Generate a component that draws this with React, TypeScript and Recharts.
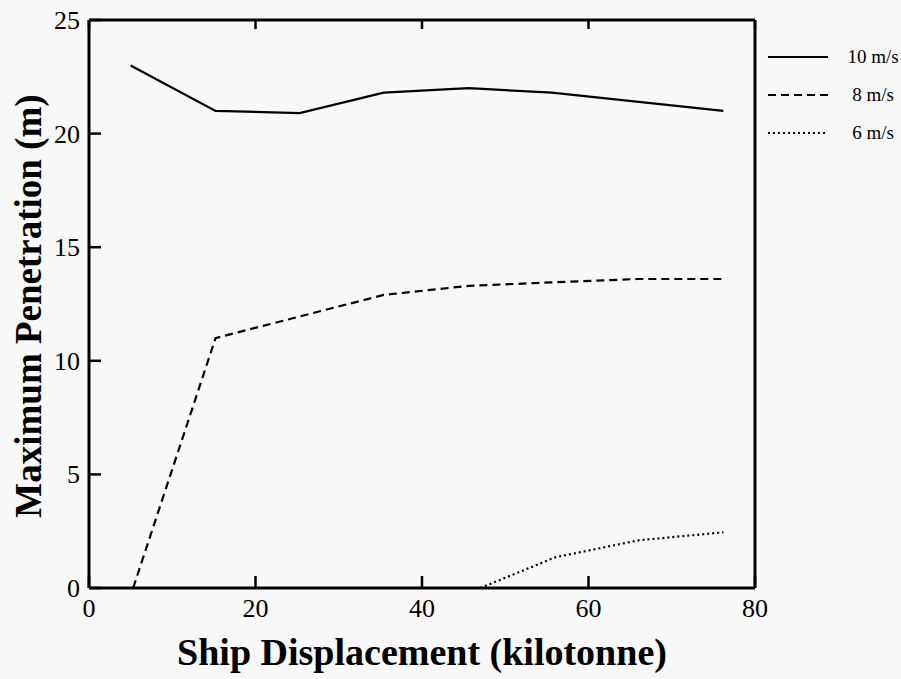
import { LineChart, Line, XAxis, YAxis } from 'recharts';

// ship displacement (kilotonne) vs maximum penetration (m)
const speed10 = [
  { x: 5, y: 23.0 }, { x: 15.2, y: 21.0 }, { x: 25.3, y: 20.9 }, { x: 35.4, y: 21.8 },
  { x: 45.6, y: 22.0 }, { x: 55.6, y: 21.8 }, { x: 76.2, y: 21.0 },
];
const speed8 = [
  { x: 5.3, y: 0 }, { x: 15.2, y: 11.0 }, { x: 25.3, y: 11.95 }, { x: 35.4, y: 12.9 },
  { x: 45.6, y: 13.3 }, { x: 55.6, y: 13.45 }, { x: 65.8, y: 13.6 }, { x: 76.2, y: 13.6 },
];
const speed6 = [
  { x: 47, y: 0 }, { x: 56, y: 1.35 }, { x: 66, y: 2.1 }, { x: 76.2, y: 2.45 },
];

const xTicks = [0, 20, 40, 60, 80];
const yTicks = [0, 5, 10, 15, 20, 25];

const series = [
  { name: '10 m/s', data: speed10, dash: undefined },
  { name: '8 m/s', data: speed8, dash: '8 5' },
  { name: '6 m/s', data: speed6, dash: '2 3' },
];

const serif = '"Liberation Serif", "Times New Roman", serif';
const titleStyle = { fontSize: 38, fontWeight: 'bold', fill: '#000', fontFamily: serif };
const frame = { stroke: '#000', strokeWidth: 3 };

// inward tick marks, drawn from the axis coordinate recharts hands over
type TickProps = { x: number; y: number; payload: { value: number } };

const BottomTick = (p: TickProps) => (
  <g>
    <line x1={p.x} x2={p.x} y1={p.y} y2={p.y - 12} stroke="#000" strokeWidth={2.5} />
    <text x={p.x} y={p.y + 29} textAnchor="middle" fontSize={26} fontFamily={serif} fill="#000">{p.payload.value}</text>
  </g>
);
const LeftTick = (p: TickProps) => (
  <g>
    <line x1={p.x} x2={p.x + 12} y1={p.y} y2={p.y} stroke="#000" strokeWidth={2.5} />
    <text x={p.x - 9} y={p.y + 9} textAnchor="end" fontSize={26} fontFamily={serif} fill="#000">{p.payload.value}</text>
  </g>
);
const TopTick = (p: TickProps) => (
  <line x1={p.x} x2={p.x} y1={p.y} y2={p.y + 9} stroke="#000" strokeWidth={2.5} />
);
const RightTick = (p: TickProps) => (
  <line x1={p.x} x2={p.x - 11} y1={p.y} y2={p.y} stroke="#000" strokeWidth={2.5} />
);

export default function App() {
  return (
    <div style={{ position: 'absolute', left: 0, top: 0, width: 901, height: 679, background: '#f8f8f8' }}>
      <LineChart width={901} height={679} data={speed10}
        margin={{ top: 20, right: 146, bottom: 0, left: 0 }}>
        <XAxis xAxisId="b" type="number" dataKey="x" domain={[0, 80]} ticks={xTicks} interval={0}
          height={91} axisLine={frame} tickLine={false} tickSize={0} tickMargin={0} tick={BottomTick}
          label={{ content: () => (
            <text x={422} y={665} textAnchor="middle" style={titleStyle}>Ship Displacement (kilotonne)</text>
          ) }} />
        <XAxis xAxisId="t" orientation="top" mirror type="number" dataKey="x" domain={[0, 80]} ticks={xTicks}
          interval={0} axisLine={frame} tickLine={false} tickSize={0} tickMargin={0} tick={TopTick} />
        <YAxis yAxisId="l" type="number" domain={[0, 25]} ticks={yTicks} width={89} interval={0}
          axisLine={frame} tickLine={false} tickSize={0} tickMargin={0} tick={LeftTick}
          label={{ content: () => (
            <text transform="translate(41, 306) rotate(-90)" textAnchor="middle" style={{ ...titleStyle, fontSize: 37 }}>
              Maximum Penetration (m)
            </text>
          ) }} />
        <YAxis yAxisId="r" orientation="right" mirror type="number" domain={[0, 25]} ticks={yTicks} interval={0}
          axisLine={frame} tickLine={false} tickSize={0} tickMargin={0} tick={RightTick} />
        {series.map(s => (
          <Line key={s.name} xAxisId="b" yAxisId="l" data={s.data} dataKey="y" name={s.name}
            type="linear" stroke="#000" strokeWidth={2.2} strokeDasharray={s.dash}
            dot={false} activeDot={false} isAnimationActive={false} />
        ))}
      </LineChart>
      <svg width={140} height={160} style={{ position: 'absolute', left: 761, top: 0 }}>
        {series.map((s, i) => (
          <g key={s.name}>
            <line x1={7} x2={67} y1={57 + i * 38} y2={57 + i * 38} stroke="#000" strokeWidth={2}
              strokeDasharray={s.dash} />
            <text x={112} y={57 + i * 38} dy={6} textAnchor="middle" fontSize={19} fontFamily={serif}
              fill="#000">{s.name}</text>
          </g>
        ))}
      </svg>
    </div>
  );
}
